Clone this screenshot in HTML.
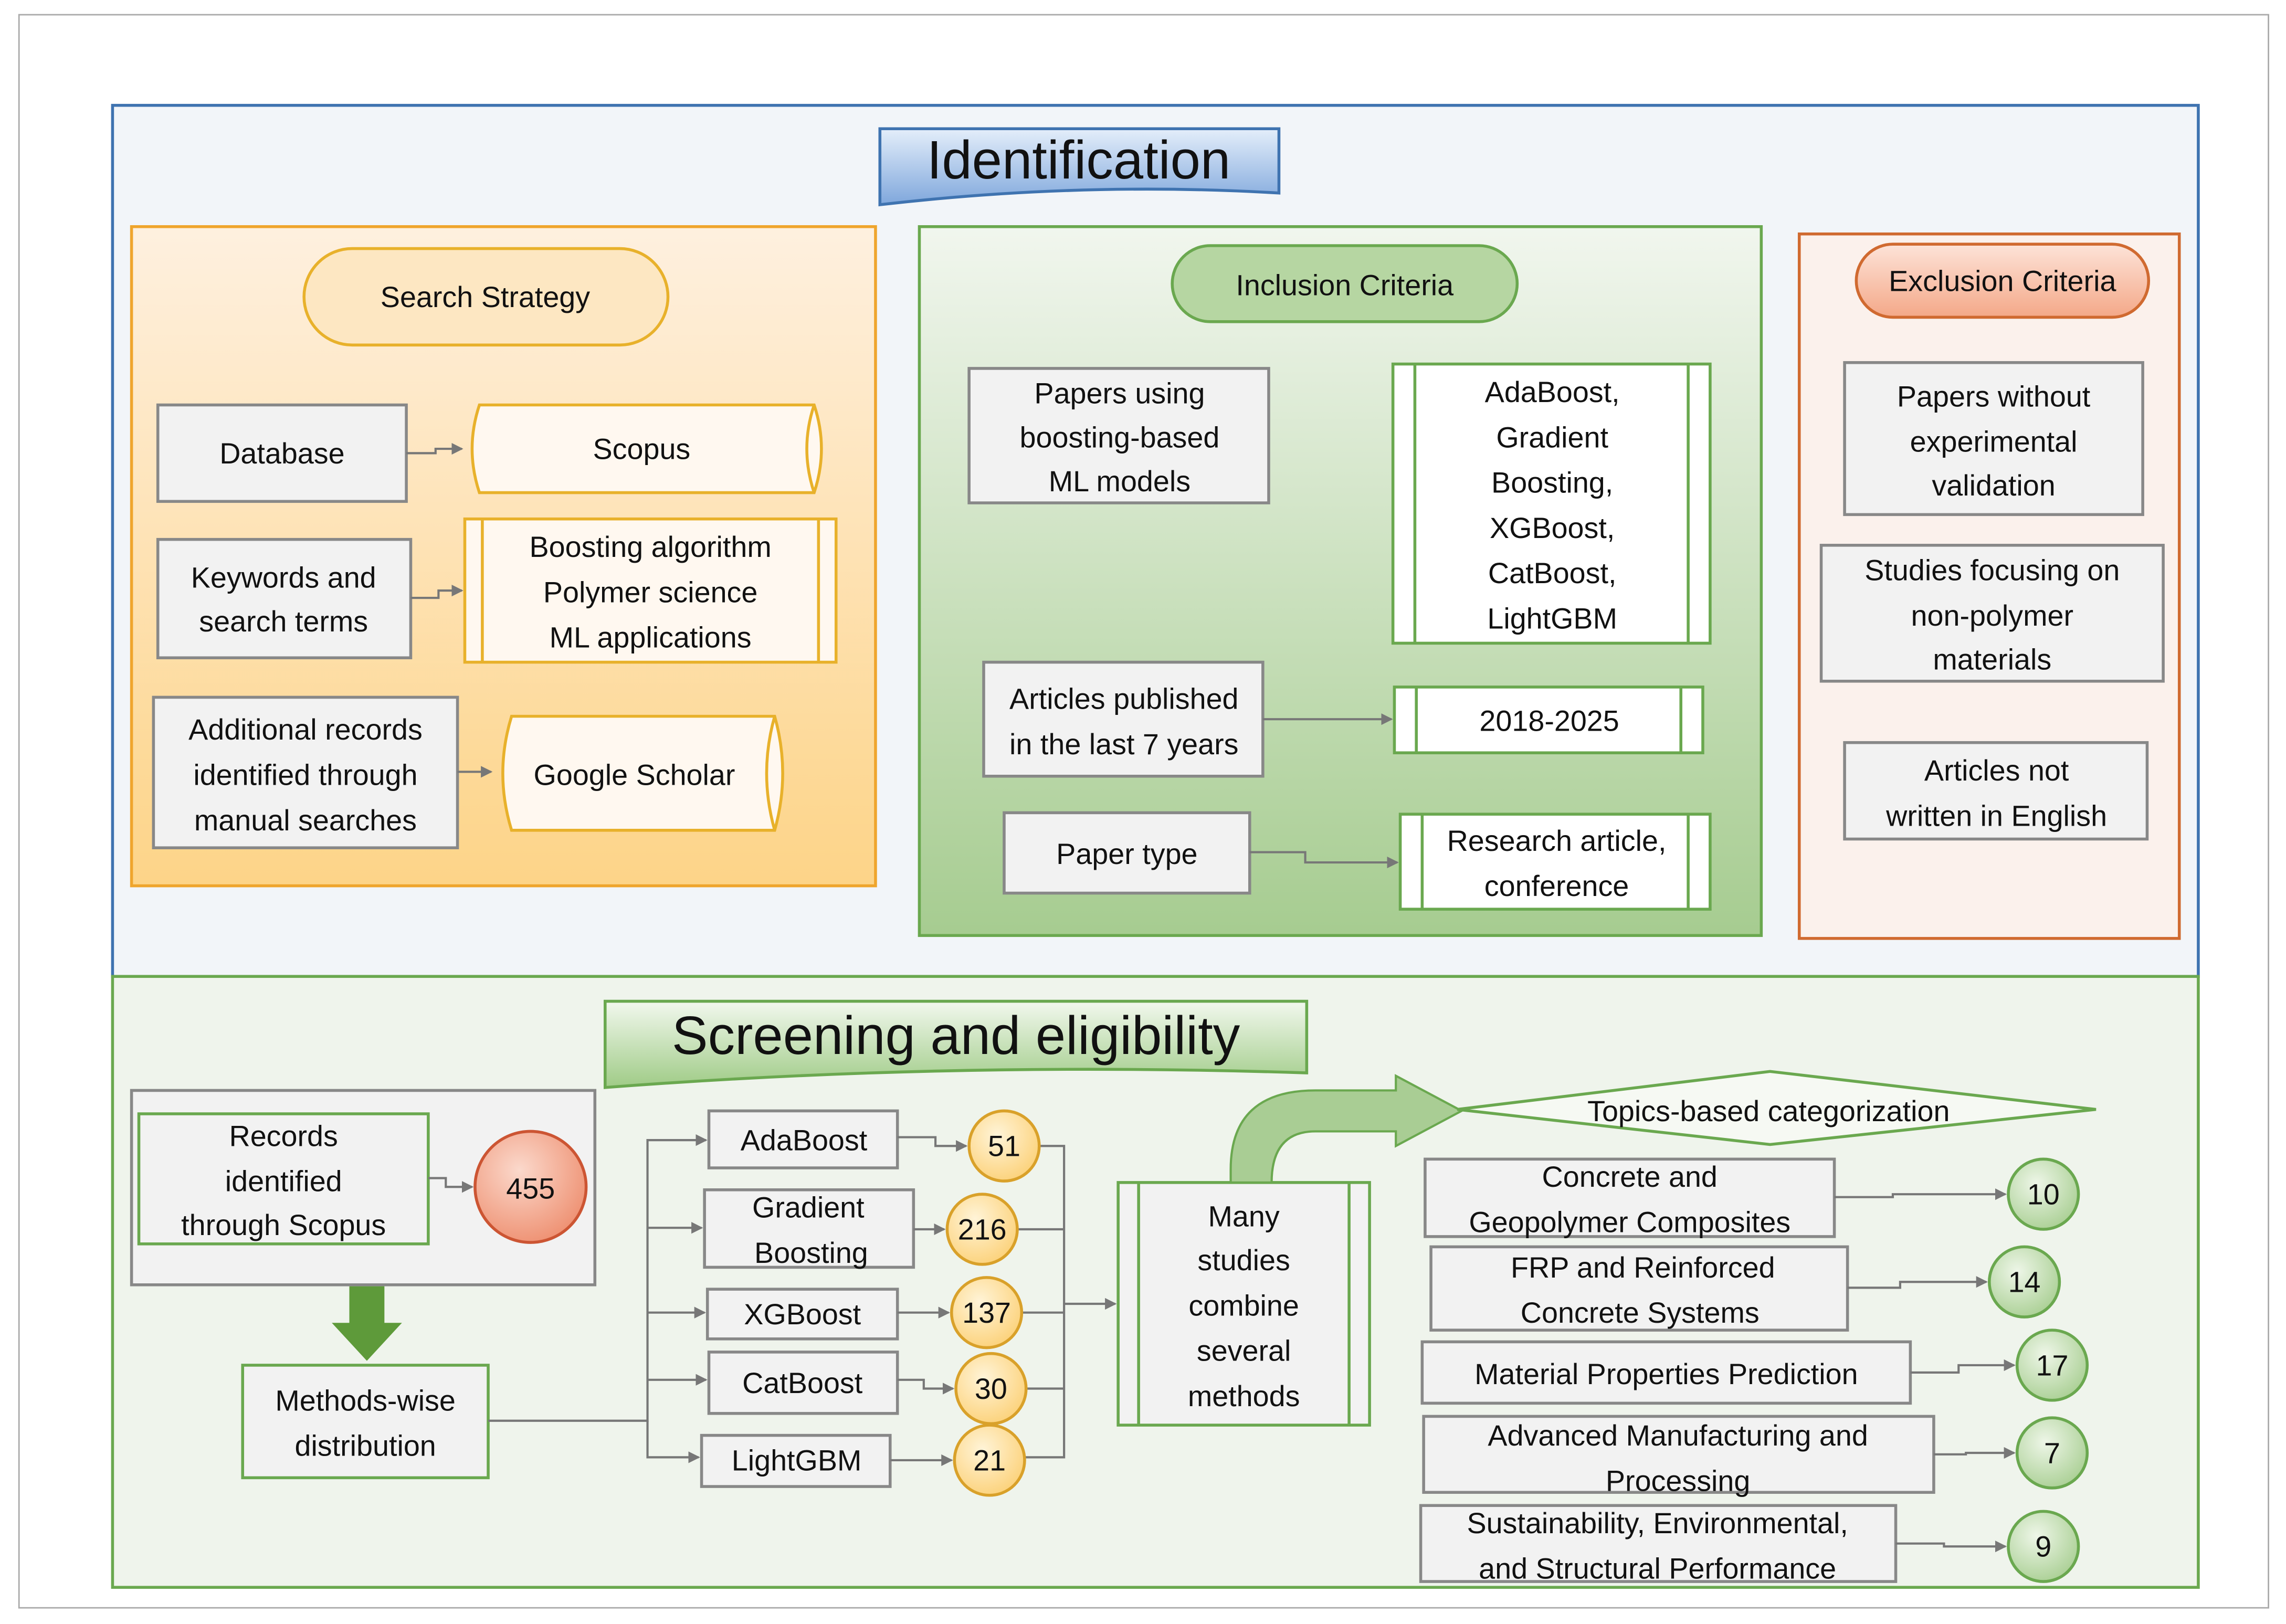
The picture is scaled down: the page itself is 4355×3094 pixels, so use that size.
<!DOCTYPE html>
<html><head><meta charset="utf-8"><style>html,body{margin:0;padding:0;background:#fff}svg{display:block}</style></head><body>
<svg xmlns="http://www.w3.org/2000/svg" width="4355" height="3094" viewBox="0 0 1564 1111" font-family="Liberation Sans, sans-serif" font-size="20" fill="#111">
<defs>
<linearGradient id="gOr" x1="0" y1="0" x2="0" y2="1"><stop offset="0" stop-color="#fef0df"/><stop offset="1" stop-color="#fdd488"/></linearGradient>
<linearGradient id="gGr" x1="0" y1="0" x2="0" y2="1"><stop offset="0" stop-color="#f1f6ee"/><stop offset="1" stop-color="#a6cc90"/></linearGradient>
<linearGradient id="gBl" x1="0" y1="0" x2="0" y2="1"><stop offset="0" stop-color="#e4eefa"/><stop offset="1" stop-color="#7fa7dc"/></linearGradient>
<linearGradient id="gBn" x1="0" y1="0" x2="0" y2="1"><stop offset="0" stop-color="#f2f8ee"/><stop offset="1" stop-color="#9fcb86"/></linearGradient>
<linearGradient id="gSal" x1="0" y1="0" x2="0" y2="1"><stop offset="0" stop-color="#fde3d8"/><stop offset="1" stop-color="#f4a888"/></linearGradient>
<radialGradient id="gRed" cx="0.4" cy="0.35" r="0.7"><stop offset="0" stop-color="#fbd9cc"/><stop offset="1" stop-color="#ee8f70"/></radialGradient>
<radialGradient id="gYel" cx="0.4" cy="0.35" r="0.7"><stop offset="0" stop-color="#fff4d8"/><stop offset="1" stop-color="#fcd178"/></radialGradient>
<radialGradient id="gGc" cx="0.4" cy="0.35" r="0.7"><stop offset="0" stop-color="#eef6e8"/><stop offset="1" stop-color="#a9cf93"/></radialGradient>
<marker id="ar" markerWidth="8" markerHeight="8" refX="7" refY="4" orient="auto" markerUnits="userSpaceOnUse"><path d="M0,0 L8,4 L0,8 z" fill="#777"/></marker>
</defs>
<rect x="13" y="10" width="1539" height="1090" fill="#fff" stroke="#aaa" stroke-width="1"/>
<rect x="77" y="72" width="1427" height="596" fill="#f2f5f9" stroke="#3f73b0" stroke-width="2"/>
<path d="M602,88 L875,88 L875,132 Q740,124 602,140 Z" fill="url(#gBl)" stroke="#3f73b0" stroke-width="2"/>
<text x="738" y="122" font-size="37" text-anchor="middle">Identification</text>
<rect x="90" y="155" width="509" height="451" fill="url(#gOr)" stroke="#efa52d" stroke-width="2"/>
<rect x="208" y="170" width="249" height="66" rx="33" fill="#fde7c2" stroke="#e8b12b" stroke-width="2"/>
<text x="332" y="210" text-anchor="middle">Search Strategy</text>
<g fill="#f2f2f2" stroke="#888" stroke-width="2">
<rect x="108" y="277" width="170" height="66"/>
<rect x="108" y="369" width="173" height="81"/>
<rect x="105" y="477" width="208" height="103"/>
</g>
<text x="193" y="317" text-anchor="middle">Database</text>
<text x="194" y="402" text-anchor="middle">Keywords and</text><text x="194" y="432" text-anchor="middle">search terms</text>
<text x="209" y="506" text-anchor="middle">Additional records</text><text x="209" y="537" text-anchor="middle">identified through</text><text x="209" y="568" text-anchor="middle">manual searches</text>
<path d="M328,277 L557,277 Q567,307 557,337 L328,337 Q318,307 328,277 Z" fill="#fff8f0" stroke="#e8b12b" stroke-width="2"/>
<path d="M557,277 Q547,307 557,337" fill="none" stroke="#e8b12b" stroke-width="2"/>
<text x="439" y="314" text-anchor="middle">Scopus</text>
<rect x="318" y="355" width="254" height="98" fill="#fff8f0" stroke="#e8b12b" stroke-width="2"/>
<line x1="330" y1="355" x2="330" y2="453" stroke="#e8b12b" stroke-width="2"/><line x1="560" y1="355" x2="560" y2="453" stroke="#e8b12b" stroke-width="2"/>
<text x="445" y="381" text-anchor="middle">Boosting algorithm</text><text x="445" y="412" text-anchor="middle">Polymer science</text><text x="445" y="443" text-anchor="middle">ML applications</text>
<path d="M350,490 L530,490 Q541,529 530,568 L350,568 Q338,529 350,490 Z" fill="#fff8f0" stroke="#e8b12b" stroke-width="2"/>
<path d="M530,490 Q519,529 530,568" fill="none" stroke="#e8b12b" stroke-width="2"/>
<text x="434" y="537" text-anchor="middle">Google Scholar</text>
<g fill="none" stroke="#777" stroke-width="1.5" marker-end="url(#ar)">
<path d="M278,310 L298,310 L298,307 L316,307"/>
<path d="M281,409 L300,409 L300,404 L316,404"/>
<path d="M313,528 L336,528"/>
</g>
<rect x="629" y="155" width="576" height="485" fill="url(#gGr)" stroke="#6aa84f" stroke-width="2"/>
<rect x="802" y="168" width="236" height="52" rx="26" fill="#b6d6a2" stroke="#6aa84f" stroke-width="2"/>
<text x="920" y="202" text-anchor="middle">Inclusion Criteria</text>
<g fill="#f2f2f2" stroke="#888" stroke-width="2">
<rect x="663" y="252" width="205" height="92"/>
<rect x="673" y="453" width="191" height="78"/>
<rect x="687" y="556" width="168" height="55"/>
</g>
<text x="766" y="276" text-anchor="middle">Papers using</text><text x="766" y="306" text-anchor="middle">boosting-based</text><text x="766" y="336" text-anchor="middle">ML models</text>
<text x="769" y="485" text-anchor="middle">Articles published</text><text x="769" y="516" text-anchor="middle">in the last 7 years</text>
<text x="771" y="591" text-anchor="middle">Paper type</text>
<g fill="#fff" stroke="#6aa84f" stroke-width="2">
<rect x="953" y="249" width="217" height="191"/>
<rect x="954" y="470" width="211" height="45"/>
<rect x="958" y="557" width="212" height="65"/>
</g>
<g stroke="#6aa84f" stroke-width="2">
<line x1="968" y1="249" x2="968" y2="440"/><line x1="1155" y1="249" x2="1155" y2="440"/>
<line x1="969" y1="470" x2="969" y2="515"/><line x1="1150" y1="470" x2="1150" y2="515"/>
<line x1="973" y1="557" x2="973" y2="622"/><line x1="1155" y1="557" x2="1155" y2="622"/>
</g>
<text x="1062" y="275" text-anchor="middle">AdaBoost,</text><text x="1062" y="306" text-anchor="middle">Gradient</text><text x="1062" y="337" text-anchor="middle">Boosting,</text><text x="1062" y="368" text-anchor="middle">XGBoost,</text><text x="1062" y="399" text-anchor="middle">CatBoost,</text><text x="1062" y="430" text-anchor="middle">LightGBM</text>
<text x="1060" y="500" text-anchor="middle">2018-2025</text>
<text x="1065" y="582" text-anchor="middle">Research article,</text><text x="1065" y="613" text-anchor="middle">conference</text>
<g fill="none" stroke="#777" stroke-width="1.5" marker-end="url(#ar)">
<path d="M864,492 L952,492"/>
<path d="M855,583 L893,583 L893,590 L956,590"/>
</g>
<rect x="1231" y="160" width="260" height="482" fill="#fbf1ec" stroke="#d06a30" stroke-width="2"/>
<rect x="1270" y="167" width="200" height="50" rx="25" fill="url(#gSal)" stroke="#d06a30" stroke-width="2"/>
<text x="1370" y="199" text-anchor="middle">Exclusion Criteria</text>
<g fill="#f2f2f2" stroke="#888" stroke-width="2">
<rect x="1262" y="248" width="204" height="104"/>
<rect x="1246" y="373" width="234" height="93"/>
<rect x="1262" y="508" width="207" height="66"/>
</g>
<text x="1364" y="278" text-anchor="middle">Papers without</text><text x="1364" y="309" text-anchor="middle">experimental</text><text x="1364" y="339" text-anchor="middle">validation</text>
<text x="1363" y="397" text-anchor="middle">Studies focusing on</text><text x="1363" y="428" text-anchor="middle">non-polymer</text><text x="1363" y="458" text-anchor="middle">materials</text>
<text x="1366" y="534" text-anchor="middle">Articles not</text><text x="1366" y="565" text-anchor="middle">written in English</text>
<rect x="77" y="668" width="1427" height="418" fill="#eff4ec" stroke="#6aa84f" stroke-width="2"/>
<path d="M414,685 L894,685 L894,734 Q650,726 414,744 Z" fill="url(#gBn)" stroke="#6aa84f" stroke-width="2"/>
<text x="654" y="721" font-size="37" text-anchor="middle">Screening and eligibility</text>
<rect x="90" y="746" width="317" height="133" fill="#f2f2f2" stroke="#888" stroke-width="2"/>
<rect x="95" y="762" width="198" height="89" fill="#f2f2f2" stroke="#6aa84f" stroke-width="2"/>
<text x="194" y="784" text-anchor="middle">Records</text><text x="194" y="815" text-anchor="middle">identified</text><text x="194" y="845" text-anchor="middle">through Scopus</text>
<circle cx="363" cy="812" r="38" fill="url(#gRed)" stroke="#cc5533" stroke-width="2"/>
<text x="363" y="820" text-anchor="middle">455</text>
<path d="M293,806 L305,806 L305,812 L323,812" fill="none" stroke="#777" stroke-width="1.5" marker-end="url(#ar)"/>
<path d="M239,880 L263,880 L263,905 L275,905 L251,931 L227,905 L239,905 Z" fill="#5e9a3a"/>
<rect x="166" y="934" width="168" height="77" fill="#f2f2f2" stroke="#6aa84f" stroke-width="2"/>
<text x="250" y="965" text-anchor="middle">Methods-wise</text><text x="250" y="996" text-anchor="middle">distribution</text>
<g fill="#f2f2f2" stroke="#888" stroke-width="2">
<rect x="485" y="760" width="129" height="39"/>
<rect x="482" y="814" width="143" height="53"/>
<rect x="484" y="882" width="130" height="34"/>
<rect x="485" y="925" width="129" height="42"/>
<rect x="480" y="982" width="129" height="35"/>
</g>
<text x="550" y="787" text-anchor="middle">AdaBoost</text>
<text x="553" y="833" text-anchor="middle">Gradient</text><text x="555" y="864" text-anchor="middle">Boosting</text>
<text x="549" y="906" text-anchor="middle">XGBoost</text>
<text x="549" y="953" text-anchor="middle">CatBoost</text>
<text x="545" y="1006" text-anchor="middle">LightGBM</text>
<g fill="none" stroke="#777" stroke-width="1.5" marker-end="url(#ar)">
<path d="M334,972 L443,972 L443,780 L483,780"/>
<path d="M443,840 L480,840"/>
<path d="M443,898 L482,898"/>
<path d="M443,944 L483,944"/>
<path d="M443,972 L443,997 L478,997"/>
<path d="M614,778 L640,778 L640,784 L661,784"/>
<path d="M625,841 L646,841"/>
<path d="M614,898 L649,898"/>
<path d="M614,944 L632,944 L632,950 L652,950"/>
<path d="M609,999 L651,999"/>
</g>
<g fill="none" stroke="#777" stroke-width="1.5">
<path d="M711,784 L728,784 L728,997 L701,997"/>
<path d="M696,841 L728,841"/><path d="M699,898 L728,898"/><path d="M702,950 L728,950"/>
</g>
<path d="M728,892 L763,892" fill="none" stroke="#777" stroke-width="1.5" marker-end="url(#ar)"/>
<g stroke="#d9a12a" stroke-width="2" fill="url(#gYel)">
<circle cx="687" cy="784" r="24"/><circle cx="672" cy="841" r="24"/><circle cx="675" cy="898" r="24"/><circle cx="678" cy="950" r="24"/><circle cx="677" cy="999" r="24"/>
</g>
<text x="687" y="791" text-anchor="middle">51</text><text x="672" y="848" text-anchor="middle">216</text><text x="675" y="905" text-anchor="middle">137</text><text x="678" y="957" text-anchor="middle">30</text><text x="677" y="1006" text-anchor="middle">21</text>
<rect x="765" y="809" width="172" height="166" fill="#f2f2f2" stroke="#6aa84f" stroke-width="2"/>
<line x1="779" y1="809" x2="779" y2="975" stroke="#6aa84f" stroke-width="2"/><line x1="923" y1="809" x2="923" y2="975" stroke="#6aa84f" stroke-width="2"/>
<text x="851" y="839" text-anchor="middle">Many</text><text x="851" y="869" text-anchor="middle">studies</text><text x="851" y="900" text-anchor="middle">combine</text><text x="851" y="931" text-anchor="middle">several</text><text x="851" y="962" text-anchor="middle">methods</text>
<path d="M842,809 L842,800 Q842,746 900,746 L955,746 L955,736 L1000,760 L955,784 L955,774 L900,774 Q870,774 870,809 Z" fill="#a9cd94" stroke="#6aa84f" stroke-width="1.5"/>
<path d="M997,759 L1211,733 L1434,759 L1211,783 Z" fill="#f6f9f3" stroke="#6aa84f" stroke-width="2"/>
<text x="1210" y="767" text-anchor="middle">Topics-based categorization</text>
<g fill="#f2f2f2" stroke="#888" stroke-width="2">
<rect x="975" y="793" width="280" height="53"/>
<rect x="979" y="853" width="285" height="57"/>
<rect x="973" y="918" width="334" height="42"/>
<rect x="974" y="969" width="349" height="52"/>
<rect x="972" y="1030" width="325" height="52"/>
</g>
<text x="1115" y="812" text-anchor="middle">Concrete and</text><text x="1115" y="843" text-anchor="middle">Geopolymer Composites</text>
<text x="1124" y="874" text-anchor="middle">FRP and Reinforced</text><text x="1122" y="905" text-anchor="middle">Concrete Systems</text>
<text x="1140" y="947" text-anchor="middle">Material Properties Prediction</text>
<text x="1148" y="989" text-anchor="middle">Advanced Manufacturing and</text><text x="1148" y="1020" text-anchor="middle">Processing</text>
<text x="1134" y="1049" text-anchor="middle">Sustainability, Environmental,</text><text x="1134" y="1080" text-anchor="middle">and Structural Performance</text>
<g fill="none" stroke="#777" stroke-width="1.5" marker-end="url(#ar)">
<path d="M1255,819 L1295,819 L1295,817 L1372,817"/>
<path d="M1264,881 L1300,881 L1300,877 L1359,877"/>
<path d="M1307,939 L1340,939 L1340,934 L1378,934"/>
<path d="M1323,995 L1345,995 L1345,994 L1378,994"/>
<path d="M1297,1056 L1330,1056 L1330,1058 L1372,1058"/>
</g>
<g stroke="#6aa84f" stroke-width="2" fill="url(#gGc)">
<circle cx="1398" cy="817" r="24"/><circle cx="1385" cy="877" r="24"/><circle cx="1404" cy="934" r="24"/><circle cx="1404" cy="994" r="24"/><circle cx="1398" cy="1058" r="24"/>
</g>
<text x="1398" y="824" text-anchor="middle">10</text><text x="1385" y="884" text-anchor="middle">14</text><text x="1404" y="941" text-anchor="middle">17</text><text x="1404" y="1001" text-anchor="middle">7</text><text x="1398" y="1065" text-anchor="middle">9</text>
</svg>
</body></html>
